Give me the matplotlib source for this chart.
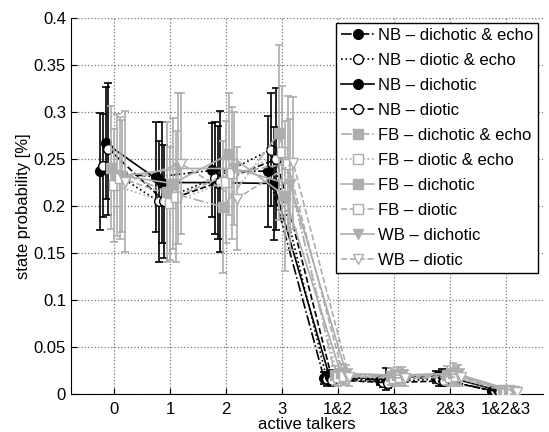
import matplotlib.pyplot as plt

plt.rcParams['font.family'] = ['Liberation Sans', 'DejaVu Sans']

# x categories
talkers = ['0', '1', '2', '3', '1&2', '1&3', '2&3', '1&2&3']

labels = ['NB \u2013 dichotic & echo', 'NB \u2013 diotic & echo', 'NB \u2013 dichotic', 'NB \u2013 diotic',
          'FB \u2013 dichotic & echo', 'FB \u2013 diotic & echo', 'FB \u2013 dichotic', 'FB \u2013 diotic',
          'WB \u2013 dichotic', 'WB \u2013 diotic']

nb_dich_echo = [0.237, 0.231, 0.238, 0.237, 0.017, 0.015, 0.018, 0.003]
nb_diot_echo = [0.243, 0.205, 0.230, 0.260, 0.016, 0.013, 0.016, 0.003]
nb_dich = [0.267, 0.225, 0.225, 0.224, 0.018, 0.016, 0.020, 0.004]
nb_diot = [0.261, 0.205, 0.226, 0.250, 0.015, 0.012, 0.014, 0.002]
fb_dich_echo = [0.241, 0.215, 0.199, 0.278, 0.020, 0.019, 0.020, 0.004]
fb_diot_echo = [0.222, 0.203, 0.226, 0.258, 0.018, 0.017, 0.018, 0.003]
fb_dich = [0.233, 0.224, 0.255, 0.211, 0.022, 0.020, 0.022, 0.004]
fb_diot = [0.230, 0.210, 0.235, 0.245, 0.019, 0.018, 0.019, 0.003]
wb_dich = [0.232, 0.240, 0.240, 0.223, 0.021, 0.020, 0.021, 0.003]
wb_diot = [0.226, 0.245, 0.208, 0.246, 0.018, 0.017, 0.018, 0.002]

nb_dich_echo_err = [0.062, 0.059, 0.050, 0.059, 0.006, 0.005, 0.006, 0.002]
nb_diot_echo_err = [0.055, 0.064, 0.060, 0.060, 0.007, 0.006, 0.007, 0.002]
nb_dich_err = [0.060, 0.064, 0.060, 0.060, 0.007, 0.012, 0.007, 0.002]
nb_diot_err = [0.070, 0.060, 0.075, 0.076, 0.006, 0.006, 0.006, 0.002]
fb_dich_echo_err = [0.065, 0.075, 0.070, 0.093, 0.010, 0.009, 0.010, 0.003]
fb_diot_echo_err = [0.060, 0.060, 0.065, 0.070, 0.009, 0.008, 0.009, 0.003]
fb_dich_err = [0.065, 0.070, 0.065, 0.080, 0.010, 0.009, 0.011, 0.003]
fb_diot_err = [0.065, 0.070, 0.070, 0.072, 0.009, 0.009, 0.010, 0.003]
wb_dich_err = [0.060, 0.080, 0.060, 0.070, 0.010, 0.009, 0.010, 0.003]
wb_diot_err = [0.075, 0.075, 0.055, 0.070, 0.009, 0.008, 0.009, 0.003]

series = [nb_dich_echo, nb_diot_echo, nb_dich, nb_diot, fb_dich_echo,
          fb_diot_echo, fb_dich, fb_diot, wb_dich, wb_diot]
errors = [nb_dich_echo_err, nb_diot_echo_err, nb_dich_err, nb_diot_err, fb_dich_echo_err,
          fb_diot_echo_err, fb_dich_err, fb_diot_err, wb_dich_err, wb_diot_err]

grey = '#adadad'
colors = ['k'] * 4 + [grey] * 6
styles = ['-.', ':', '-', '--', '-.', ':', '-', '--', '-', '--']
markers = ['o', 'o', 'o', 'o', 's', 's', 's', 's', 'v', 'v']
faces = ['k', 'w', 'k', 'w', grey, 'w', grey, 'w', grey, 'w']

fig = plt.figure(figsize=(5.49, 4.32), dpi=100)
ax = fig.add_axes([0.129, 0.088, 0.86, 0.87])

for i in range(len(series)):
    xs = [j - 0.25 + 0.05 * i for j in range(len(talkers))]
    ax.errorbar(xs, series[i], yerr=errors[i], fmt='none', ecolor=colors[i],
                elinewidth=1.2, capsize=3, capthick=1.2, zorder=2 + i)
    ax.plot(xs, series[i], linestyle=styles[i], color=colors[i], linewidth=1.2,
            marker=markers[i], markersize=7, markerfacecolor=faces[i],
            markeredgecolor=colors[i], label=labels[i], zorder=3 + i)

ax.set_xlim(-0.77, 7.66)
ax.set_ylim(0, 0.4)
ax.set_xticks(range(len(talkers)))
ax.set_xticklabels(talkers)
ax.set_yticks([0, 0.05, 0.1, 0.15, 0.2, 0.25, 0.3, 0.35, 0.4])
ax.set_yticklabels(['0', '0.05', '0.1', '0.15', '0.2', '0.25', '0.3', '0.35', '0.4'])
ax.tick_params(direction='in', labelsize=12, length=4)
ax.tick_params(axis='x', pad=6)
ax.grid(True, linestyle=':', color='#777777', linewidth=0.9)
ax.set_axisbelow(True)
ax.spines['top'].set_visible(False)
ax.spines['right'].set_visible(False)
ax.set_xlabel('active talkers', fontsize=12, labelpad=0)
ax.set_ylabel('state probability [%]', fontsize=12, labelpad=2)

leg = ax.legend(loc='upper right', fontsize=12, handlelength=2.0, handletextpad=0.2,
                borderaxespad=0.3, labelspacing=0.6, fancybox=False, framealpha=1,
                edgecolor='k', borderpad=0.3)
leg.get_frame().set_linewidth(1.0)
leg.set_zorder(20)

plt.savefig('out.png')
